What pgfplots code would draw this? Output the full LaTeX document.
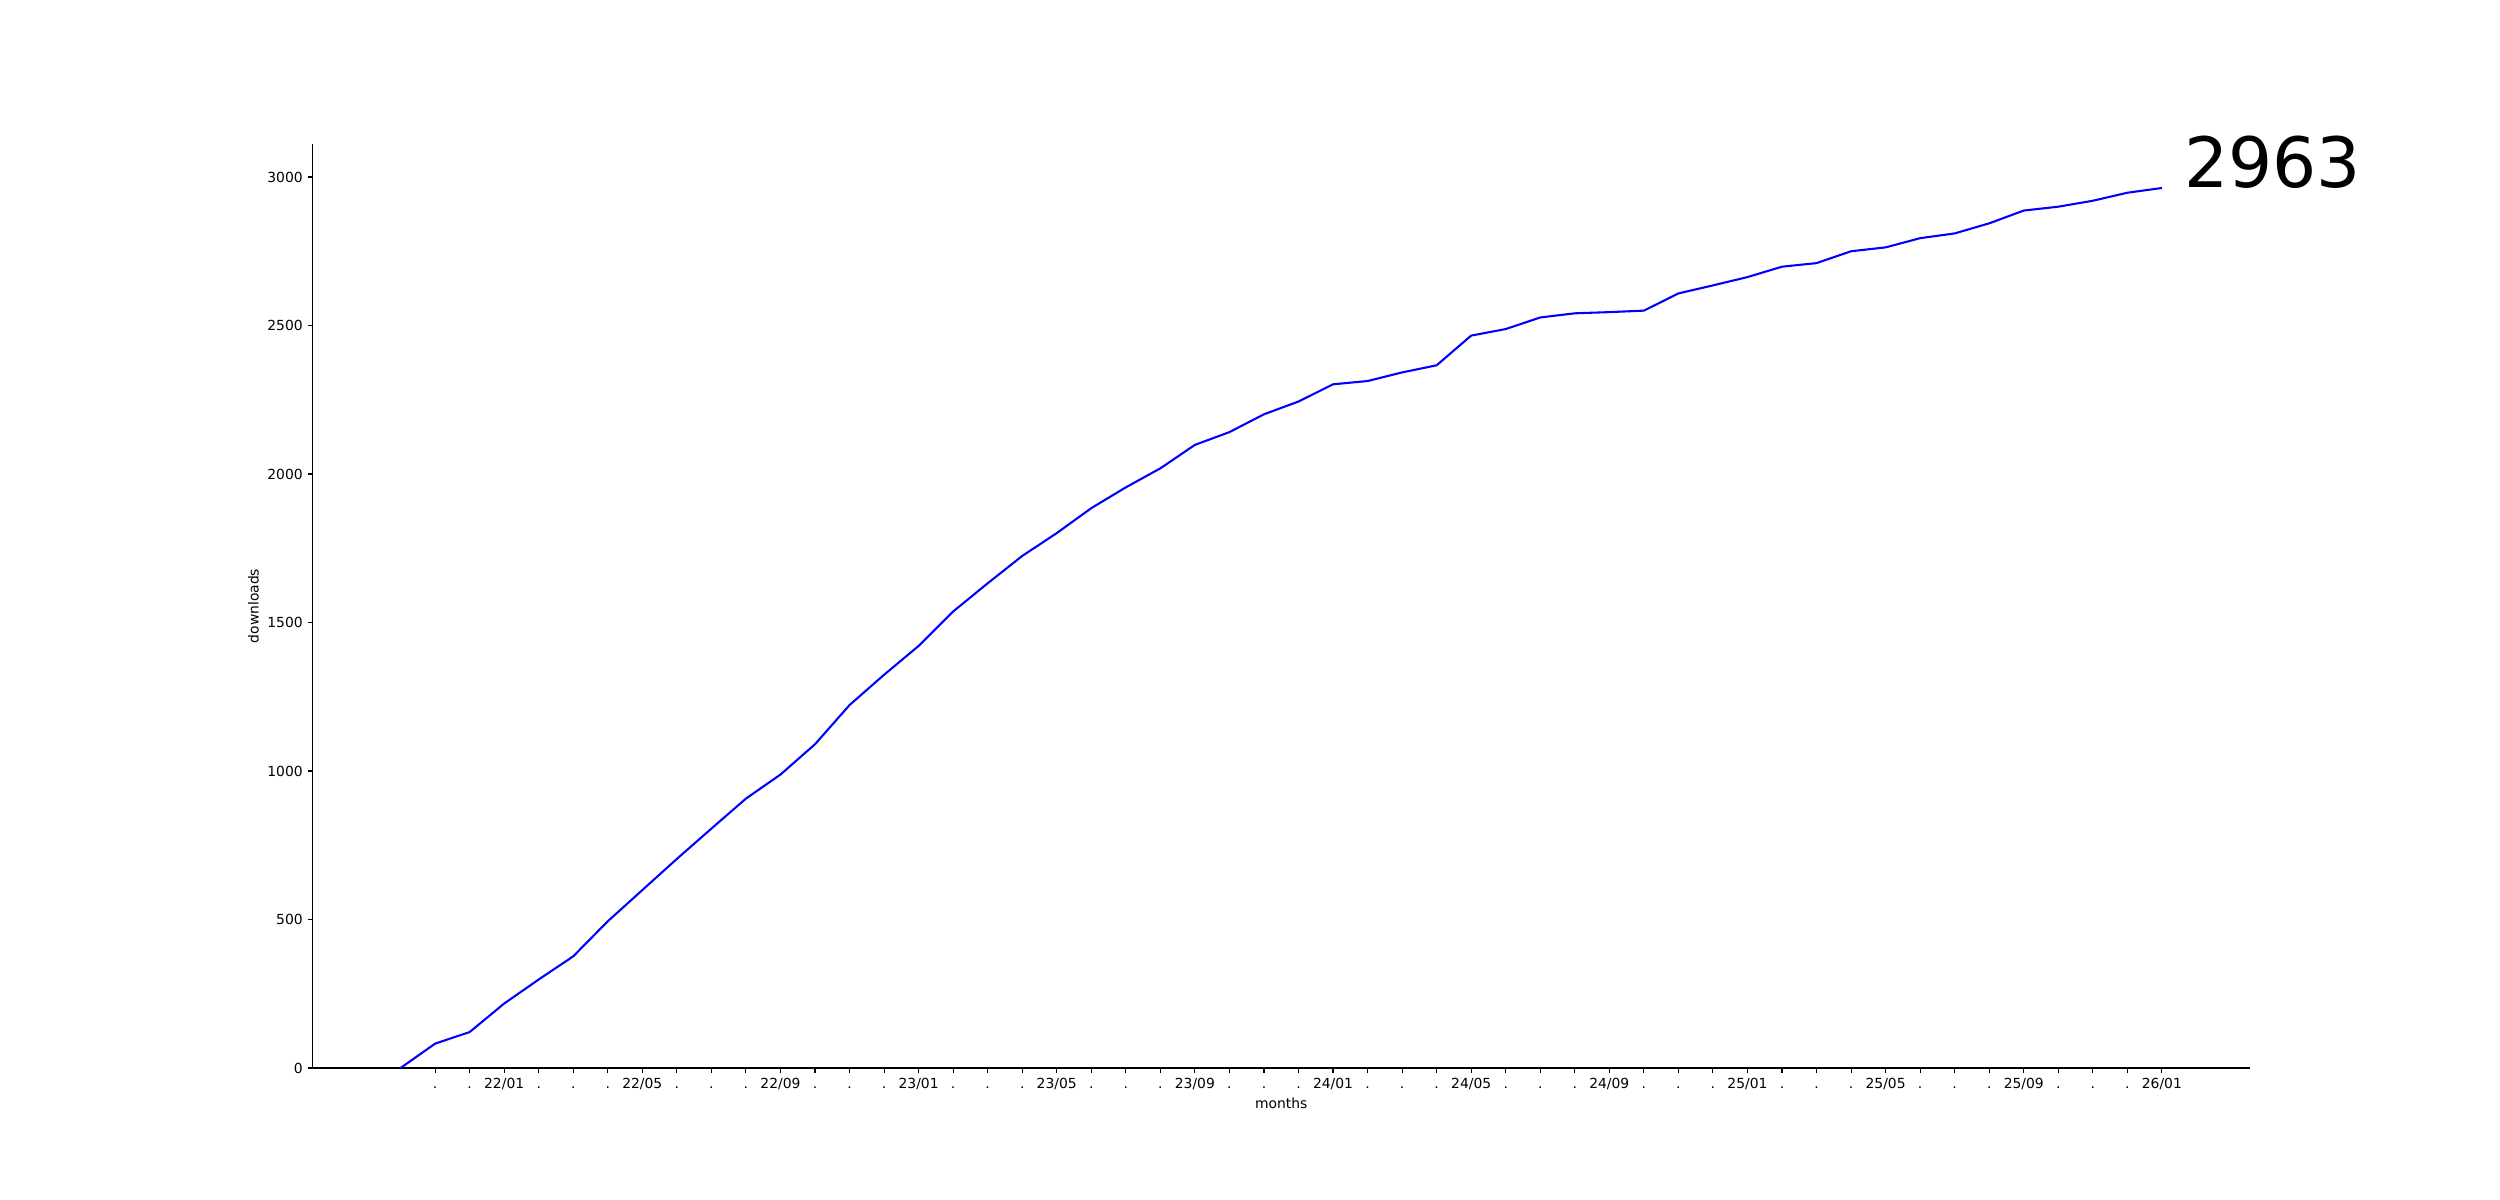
\documentclass[border=0pt]{standalone}
\usepackage{fontspec}
\setmainfont{DejaVu Sans}
\usepackage{pgfplots}
\pgfplotsset{compat=1.18}
\begin{document}
\begin{tikzpicture}[x=1pt,y=1pt]
\useasboundingbox (0,0) rectangle (1800,864);
\begin{axis}[
  at={(225pt,95.04pt)}, anchor=south west,
  scale only axis, width=1395pt, height=665.28pt,
  xmin=-2.55, xmax=53.55, ymin=0, ymax=3111.15,
  axis x line*=bottom, axis y line*=left,
  axis line style={line width=0.8pt, black},
  tick align=outside, major tick length=3.5pt,
  tick style={line width=0.8pt, black},
  xtick={1,...,51},
  xticklabels={.,.,22/01,.,.,.,22/05,.,.,.,22/09,.,.,.,23/01,.,.,.,23/05,.,.,.,23/09,.,.,.,24/01,.,.,.,24/05,.,.,.,24/09,.,.,.,25/01,.,.,.,25/05,.,.,.,25/09,.,.,.,26/01},
  ytick={0,500,...,3000},
  /pgf/number format/assume math mode=true,
  /pgf/number format/1000 sep={},
  tick label style={font=\fontsize{10}{12}\selectfont},
  xticklabel style={text height=0.76em, text depth=0.24em},
  xlabel=months, ylabel=downloads,
  label style={font=\fontsize{10}{12}\selectfont},
  xlabel style={at={(axis description cs:0.5,-0.0379)}, anchor=center, inner sep=0pt},
  ylabel style={at={(axis description cs:-0.0305,0.5)}, anchor=center, inner sep=0pt},
  clip=false,
]
\addplot[color={rgb,255:red,0;green,0;blue,255}, line width=1.5pt] coordinates {
(0,0) (1,82) (2,121) (3,217) (4,298) (5,376) (6,494) (7,599) (8,704) (9,806)
(10,907) (11,988) (12,1090) (13,1222) (14,1324) (15,1421) (16,1537) (17,1632) (18,1724) (19,1801)
(20,1885) (21,1955) (22,2019) (23,2098) (24,2141) (25,2201) (26,2244) (27,2302) (28,2313) (29,2342)
(30,2366) (31,2466) (32,2488) (33,2527) (34,2541) (35,2545) (36,2550) (37,2608) (38,2635) (39,2663)
(40,2698) (41,2710) (42,2750) (43,2763) (44,2794) (45,2810) (46,2844) (47,2887) (48,2900) (49,2920)
(50,2947) (51,2963)
};
\node[anchor=base west, inner sep=0pt, xshift=16pt, font=\fontsize{50}{60}\selectfont] at (axis cs:51,2963) {2963};
\end{axis}
\end{tikzpicture}
\end{document}
